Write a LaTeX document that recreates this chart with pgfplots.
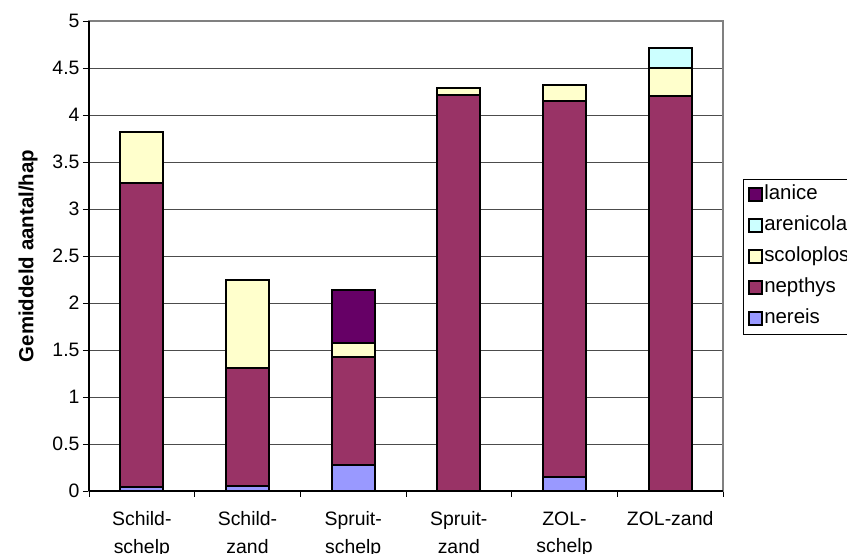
\documentclass[border=0pt]{standalone}
\usepackage{fontspec}
\setmainfont{Liberation Sans}
\usepackage{pgfplots}
\pgfplotsset{compat=1.18}

\definecolor{cnereis}{HTML}{9999FF}
\definecolor{cnepthys}{HTML}{993366}
\definecolor{cscoloplos}{HTML}{FFFFCC}
\definecolor{carenicola}{HTML}{CCFFFF}
\definecolor{clanice}{HTML}{660066}

\begin{document}
\begin{tikzpicture}
\begin{axis}[
    at={(89bp,63bp)}, anchor=south west,
    width=634bp, height=470bp, scale only axis,
    ybar stacked, bar width=43bp,
    xmin=-0.5, xmax=5.5, ymin=0, ymax=5,
    ytick={0,0.5,1,1.5,2,2.5,3,3.5,4,4.5,5},
    xtick={0,1,2,3,4,5},
    xticklabels={{Schild-\\schelp},{Schild-\\zand},{Spruit-\\schelp},{Spruit-\\zand},{ZOL-\\schelp},{ZOL-zand}},
    minor xtick={-0.5,0.5,1.5,2.5,3.5,4.5,5.5},
    major x tick style={draw=none},
    minor x tick style={draw=black, line width=1bp},
    y tick style={draw=black, line width=1bp},
    tick align=outside, xtick pos=bottom, ytick pos=left,
    major tick length=6bp, minor tick length=6bp,
    ymajorgrids, major grid style={black!70, line width=0.9bp},
    axis line style={draw=black!50, line width=1.5bp},
    /pgf/number format/assume math mode=true,
    tick label style={font=\fontsize{19.5}{28}\selectfont},
    xticklabel style={align=center, yshift=-11bp},
    ylabel={\bfseries Gemiddeld aantal/hap},
    ylabel style={at={(axis description cs:-0.096,0.5)}, anchor=center, font=\fontsize{20.5}{24}\selectfont},
    every axis plot/.append style={draw=black, line width=2bp},
    legend image code/.code={\draw[#1, line width=1.6bp] (0bp,-6bp) rectangle (13bp,7bp);},
    reverse legend,
    legend cell align=left,
    legend style={at={(axis description cs:1.031,0.664)}, anchor=north west,
        draw=black, line width=1bp, fill=white, inner sep=5bp,
        font=\fontsize{20.5}{24}\selectfont, row sep=10bp,
        nodes={inner sep=1.5bp, text height=14bp, text depth=4bp}},
]
\addplot[fill=cnereis] coordinates {(0,0.04) (1,0.05) (2,0.28) (3,0) (4,0.15) (5,0)};
\addlegendentry{nereis}
\addplot[fill=cnepthys] coordinates {(0,3.24) (1,1.26) (2,1.145) (3,4.21) (4,4.0) (5,4.2)};
\addlegendentry{nepthys}
\addplot[fill=cscoloplos] coordinates {(0,0.54) (1,0.94) (2,0.15) (3,0.08) (4,0.17) (5,0.30)};
\addlegendentry{scoloplos}
\addplot[fill=carenicola] coordinates {(0,0) (1,0) (2,0) (3,0) (4,0) (5,0.21)};
\addlegendentry{arenicola}
\addplot[fill=clanice] coordinates {(0,0) (1,0) (2,0.565) (3,0) (4,0) (5,0)};
\addlegendentry{lanice}
\end{axis}
\draw[black, line width=1.2bp] (89bp,63bp) -- (89bp,533bp);
\draw[black, line width=1.2bp] (89bp,63bp) -- (723bp,63bp);
\pgfresetboundingbox
\useasboundingbox (0bp,0bp) rectangle (847bp,554bp);
\end{tikzpicture}
\end{document}
